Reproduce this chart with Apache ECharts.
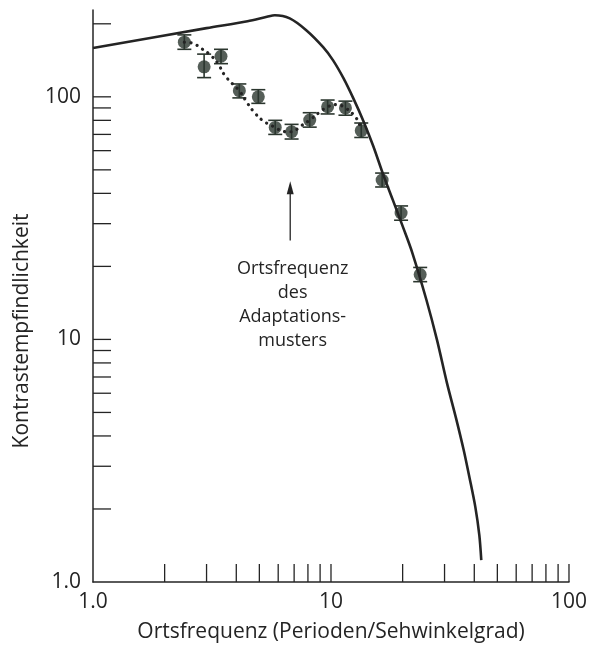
<!DOCTYPE html>
<html>
<head>
<meta charset="utf-8">
<script src="https://cdn.jsdelivr.net/npm/echarts@6/dist/echarts.min.js"></script>
<style>
    html, body { margin: 0; padding: 0; background: #fff; }
    #main { width: 590px; height: 648px; }
</style>
</head>
<body>
<div id="main"></div>
<script>
let $ = a => document.querySelector(a)

// 实线: 未适应时的对比敏感度曲线
const curveData = [
    [1, 159], [3, 192], [4.46, 205], [5.38, 213.7], [5.81, 217], [6.71, 210.6],
    [7.87, 188.3], [9.27, 160.3], [10.19, 141.7], [11.28, 119.4], [12.4, 98.8],
    [13.69, 79.4], [15.06, 62.6], [16.55, 48], [18.2, 37.5], [20, 29.3],
    [21.98, 22.7], [25.2, 14.5], [27.9, 9.93], [30.7, 6.62], [33.5, 4.75],
    [36.1, 3.5], [38.2, 2.69], [40.4, 2.04], [42, 1.56], [42.8, 1.23]
]

// 点线: 适应后的拟合
const dottedData = [
    [2.42, 168], [2.64, 166], [2.86, 158], [3.13, 148], [3.35, 137], [3.57, 123],
    [3.86, 113], [4.12, 106], [4.46, 94], [4.74, 86.8], [5.13, 80.2], [5.56, 76.5],
    [5.83, 74.8], [6.3, 72], [6.83, 71.8], [7.5, 76], [8.14, 80.2], [8.9, 86],
    [9.68, 91], [10.6, 93], [11.5, 90], [12.5, 84], [13.1, 78], [13.4, 72.5]
]

// 测量点
const freq = [2.42, 2.93, 3.45, 4.12, 4.95, 5.83, 6.83, 8.14, 9.68, 11.5, 13.4, 16.4, 19.7, 23.7]
const sens = [168, 133, 147, 106, 100, 74.8, 71.8, 80.2, 91, 90, 72.5, 45.4, 33.2, 18.5]
const errLow = [157, 120, 137, 99, 94, 70, 67, 75, 85, 84, 68, 42.5, 31, 17.3]
const errHigh = [180, 150, 157, 113, 107, 80, 77, 86, 97, 96, 78, 48.5, 35.5, 19.8]

// 坐标轴刻度
const xTickValues = [2, 3, 4, 5, 6, 7, 8, 9, 10, 20, 30, 40, 50, 60, 70, 80, 90, 100]
const yTickValues = [2, 3, 4, 5, 6, 7, 8, 9, 10, 20, 30, 40, 50, 60, 70, 80, 90, 100, 200]
const tickLabels = { 1: '1.0', 10: '10', 100: '100' }

// 箭头和注释
const arrowX = 6.74
const arrowFrom = 25.6
const arrowTo = 44.9
const noteText = 'Ortsfrequenz\ndes\nAdaptations-\nmusters'
const notePos = [6.9, 21.8]

const ink = '#242424'
const dotColor = '#2b362e'
const font = 'Open Sans'

let chart = echarts.init($('#main'))

chart.setOption({
    animation: false,
    grid: { left: 93, right: 13, top: 10, bottom: 66 },
    textStyle: { fontFamily: font },
    xAxis: {
        type: 'log',
        logBase: 10,
        min: 1,
        max: 100,
        name: 'Ortsfrequenz (Perioden/Sehwinkelgrad)',
        nameLocation: 'middle',
        nameGap: 40,
        nameTextStyle: { fontSize: 21, color: ink, fontFamily: font },
        axisLine: { lineStyle: { color: ink, width: 1.5 } },
        axisTick: { show: false },
        splitLine: { show: false },
        axisLabel: {
            fontSize: 21, color: ink, margin: 10,
            formatter: v => tickLabels[Math.round(v)] || ''
        }
    },
    yAxis: {
        type: 'log',
        logBase: 10,
        min: 1,
        max: 228,
        name: 'Kontrastempfindlichkeit',
        nameLocation: 'middle',
        nameGap: 60,
        nameTextStyle: { fontSize: 21, color: ink, fontFamily: font, padding: [0, 70, 0, 0] },
        axisLine: { lineStyle: { color: ink, width: 1.5 } },
        axisTick: { show: false },
        splitLine: { show: false },
        axisLabel: {
            fontSize: 21, color: ink, margin: 12,
            formatter: v => tickLabels[Math.round(v)] || ''
        }
    },
    series: [
        {
            // x轴刻度(向上)
            type: 'custom',
            silent: true,
            clip: false,
            data: xTickValues.map(v => [v, 1]),
            renderItem: (params, api) => {
                let p = api.coord([api.value(0), 1])
                return {
                    type: 'line',
                    shape: { x1: p[0], y1: p[1], x2: p[0], y2: p[1] - 18 },
                    style: { stroke: ink, lineWidth: 1.3 }
                }
            }
        },
        {
            // y轴刻度(向右)
            type: 'custom',
            silent: true,
            clip: false,
            data: yTickValues.map(v => [1, v]),
            renderItem: (params, api) => {
                let p = api.coord([1, api.value(1)])
                return {
                    type: 'line',
                    shape: { x1: p[0], y1: p[1], x2: p[0] + 18, y2: p[1] },
                    style: { stroke: ink, lineWidth: 1.3 }
                }
            }
        },
        {
            type: 'line',
            data: curveData,
            smooth: 0.3,
            showSymbol: false,
            clip: false,
            lineStyle: { color: ink, width: 2.6 }
        },
        {
            type: 'line',
            data: dottedData,
            smooth: 0.4,
            showSymbol: false,
            lineStyle: { color: ink, width: 3.2, type: [0.1, 6.5], cap: 'round' }
        },
        {
            // 箭头
            type: 'custom',
            silent: true,
            data: [[arrowX, arrowFrom, arrowTo]],
            renderItem: (params, api) => {
                let a = api.coord([api.value(0), api.value(1)])
                let b = api.coord([api.value(0), api.value(2)])
                return {
                    type: 'group',
                    children: [
                        { type: 'line', shape: { x1: a[0], y1: a[1], x2: b[0], y2: b[1] + 8 }, style: { stroke: ink, lineWidth: 1.3 } },
                        { type: 'polygon', shape: { points: [[b[0], b[1]], [b[0] - 3.5, b[1] + 13], [b[0] + 3.5, b[1] + 13]] }, style: { fill: ink } }
                    ]
                }
            }
        },
        {
            // 误差线
            type: 'custom',
            silent: true,
            data: freq.map((f, i) => [f, errLow[i], errHigh[i]]),
            renderItem: (params, api) => {
                let lo = api.coord([api.value(0), api.value(1)])
                let hi = api.coord([api.value(0), api.value(2)])
                let st = { stroke: dotColor, lineWidth: 1.6 }
                return {
                    type: 'group',
                    children: [
                        { type: 'line', shape: { x1: lo[0], y1: lo[1], x2: hi[0], y2: hi[1] }, style: st },
                        { type: 'line', shape: { x1: lo[0] - 7, y1: lo[1], x2: lo[0] + 7, y2: lo[1] }, style: st },
                        { type: 'line', shape: { x1: hi[0] - 7, y1: hi[1], x2: hi[0] + 7, y2: hi[1] }, style: st }
                    ]
                }
            }
        },
        {
            type: 'scatter',
            data: freq.map((f, i) => [f, sens[i]]),
            symbol: 'circle',
            symbolSize: 13,
            itemStyle: { color: dotColor }
        }
    ]
})

// 注释文字
let np = chart.convertToPixel({ gridIndex: 0 }, notePos)
chart.setOption({
    graphic: [{
        type: 'text',
        x: np[0],
        y: np[1],
        style: {
            text: noteText,
            fill: ink,
            font: '18px "' + font + '"',
            lineHeight: 24,
            align: 'center',
            verticalAlign: 'top'
        }
    }]
})
</script>
</body>
</html>
